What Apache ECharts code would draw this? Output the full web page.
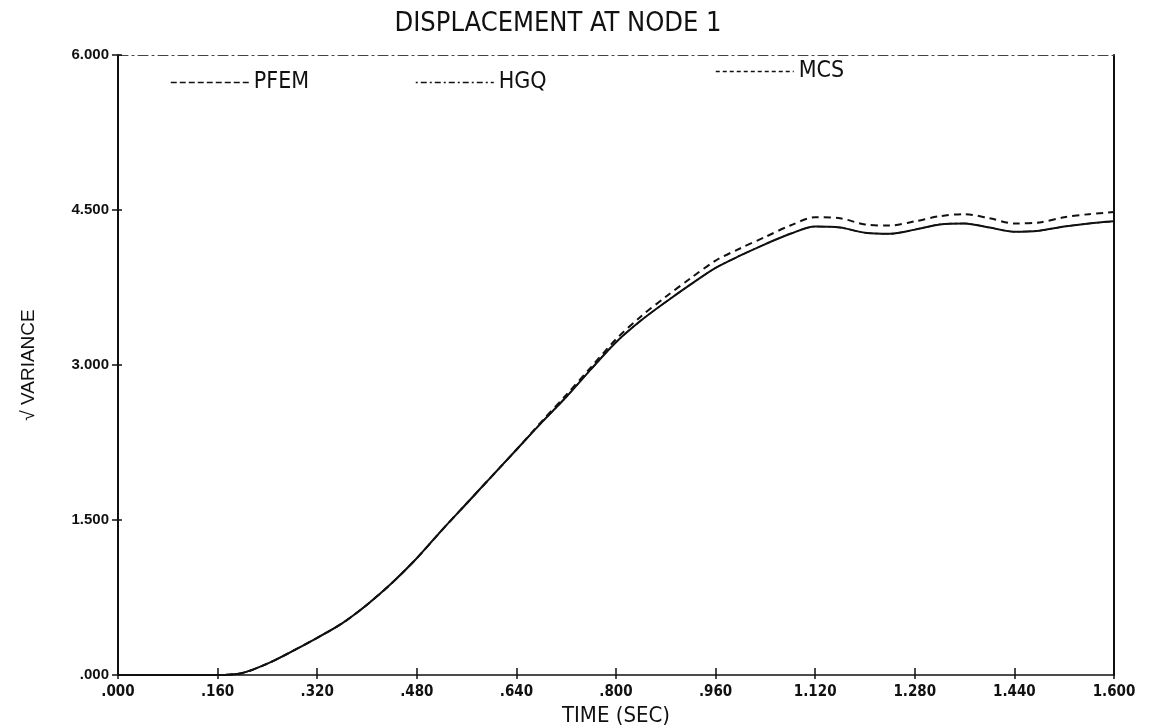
<!DOCTYPE html>
<html>
<head>
    <meta charset="utf-8">
    <title>DISPLACEMENT AT NODE 1</title>
    <script src="https://cdn.jsdelivr.net/npm/echarts@6/dist/echarts.min.js"></script>
    <style>
        html, body { margin: 0; padding: 0; background: #fff; }
        #main { width: 1158px; height: 728px; }
    </style>
</head>
<body>
<div id="main"></div>
<script type="text/javascript">
    // 数据
    var times = [0, .04, .08, .12, .16, .20, .24, .28, .32, .36, .40, .44, .48, .52, .56, .60,
        .64, .68, .72, .76, .80, .84, .88, .92, .96, 1.00, 1.04, 1.08, 1.12, 1.16, 1.20,
        1.24, 1.28, 1.32, 1.36, 1.40, 1.44, 1.48, 1.52, 1.56, 1.60];
    var pfem = [0, 0, 0, 0, 0, 0.02, 0.11, 0.23, 0.36, 0.50, 0.68, 0.89, 1.13, 1.40, 1.66, 1.92,
        2.18, 2.44, 2.69, 2.96, 3.22, 3.43, 3.61, 3.78, 3.94, 4.06, 4.17, 4.27, 4.34, 4.33, 4.28,
        4.27, 4.31, 4.36, 4.37, 4.33, 4.29, 4.30, 4.34, 4.37, 4.39];
    var hgq = [0, 0, 0, 0, 0, 0.02, 0.11, 0.23, 0.36, 0.50, 0.68, 0.89, 1.13, 1.40, 1.66, 1.92,
        2.18, 2.44, 2.69, 2.96, 3.22, 3.43, 3.61, 3.78, 3.94, 4.06, 4.17, 4.27, 4.34, 4.33, 4.28,
        4.27, 4.31, 4.36, 4.37, 4.33, 4.29, 4.30, 4.34, 4.37, 4.39];
    var mcs = [0, 0, 0, 0, 0, 0.02, 0.11, 0.23, 0.36, 0.50, 0.68, 0.89, 1.13, 1.40, 1.66, 1.92,
        2.18, 2.45, 2.71, 2.98, 3.25, 3.47, 3.66, 3.84, 4.01, 4.13, 4.24, 4.35, 4.43, 4.42, 4.36,
        4.35, 4.39, 4.44, 4.46, 4.42, 4.37, 4.38, 4.43, 4.46, 4.48];

    var narrow = '"Liberation Sans Narrow", "DejaVu Sans Condensed", "Liberation Sans", sans-serif';
    var plain = '"Liberation Sans", Arial, sans-serif';

    function pairs(ys) {
        var out = [];
        for (var i = 0; i < times.length; i++) out.push([times[i], ys[i]]);
        return out;
    }
    // .000 / .160 / 1.120 style
    function fmt(v) {
        var s = v.toFixed(3);
        return s.charAt(0) === '0' ? s.substring(1) : s;
    }

    var myChart = echarts.init(document.getElementById('main'));

    function legendAt(name, left, top, dash) {
        return {
            left: left, top: top,
            itemWidth: 78, itemHeight: 12, itemGap: 8,
            textStyle: { fontFamily: narrow, fontSize: 23, color: '#111' },
            data: [{
                name: name,
                itemStyle: { opacity: 0, borderWidth: 0 },
                lineStyle: { type: dash, width: 1.5, color: '#111' }
            }]
        };
    }

    var rect = { left: 118, right: 44, top: 55, bottom: 53, outerBoundsMode: 'none', containLabel: false };
    var hidden = { show: false };

    var option = {
        backgroundColor: '#fff',
        animation: false,
        title: {
            text: 'DISPLACEMENT AT NODE 1',
            left: 553, top: 5, textAlign: 'center',
            textStyle: { fontFamily: narrow, fontSize: 27, fontWeight: 'normal', color: '#111' }
        },
        legend: [
            legendAt('PFEM', 165, 66, [6, 3]),
            legendAt('HGQ', 410, 66, [2, 3, 6, 3]),
            legendAt('MCS', 710, 55, [4, 3])
        ],
        grid: [rect, rect],
        xAxis: [{
            gridIndex: 0, type: 'value', min: 0, max: 1.6, interval: 0.16, position: 'bottom',
            name: 'TIME (SEC)', nameLocation: 'middle', nameGap: 28,
            nameTextStyle: { fontFamily: narrow, fontSize: 22, color: '#111' },
            axisLine: { onZero: false, lineStyle: { color: '#111', width: 1.5 } },
            axisTick: { inside: false, length: 4, lineStyle: { color: '#111', width: 1.5 } },
            axisLabel: { formatter: fmt, fontFamily: narrow, fontSize: 15, fontWeight: 'bold', color: '#111', margin: 10 },
            splitLine: hidden
        }, {
            gridIndex: 0, type: 'value', min: 0, max: 1.6, position: 'top',
            axisLine: { onZero: false, lineStyle: { color: '#444', width: 1, type: [10, 4, 2, 4] } },
            axisTick: hidden, axisLabel: hidden, splitLine: hidden
        }, {
            gridIndex: 1, type: 'value', min: 0, max: 1.6, interval: 0.16, position: 'bottom',
            axisLine: { show: false, onZero: false },
            axisTick: { inside: true, length: 7, lineStyle: { color: '#111', width: 1.5 } },
            axisLabel: hidden, splitLine: hidden
        }],
        yAxis: [{
            gridIndex: 0, type: 'value', min: 0, max: 6, interval: 1.5, position: 'left',
            name: '√ VARIANCE', nameLocation: 'middle', nameGap: 80, nameRotate: 90,
            nameTextStyle: { fontFamily: plain, fontSize: 19, color: '#111' },
            axisLine: { show: true, onZero: false, lineStyle: { color: '#111', width: 2 } },
            axisTick: { show: true, inside: false, length: 6, lineStyle: { color: '#111', width: 1.5 } },
            axisLabel: { formatter: fmt, fontFamily: plain, fontSize: 15, fontWeight: 'bold', color: '#111', margin: 9 },
            splitLine: hidden
        }, {
            gridIndex: 0, type: 'value', min: 0, max: 6, position: 'right',
            axisLine: { show: true, onZero: false, lineStyle: { color: '#111', width: 2 } },
            axisTick: hidden, axisLabel: hidden, splitLine: hidden
        }, {
            gridIndex: 1, type: 'value', min: 0, max: 6, interval: 1.5, position: 'left',
            axisLine: { show: false, onZero: false },
            axisTick: { show: true, inside: true, length: 4, lineStyle: { color: '#111', width: 1.5 } },
            axisLabel: hidden, splitLine: hidden
        }],
        series: [{
            name: 'PFEM', type: 'line', smooth: 0.3, symbol: 'none',
            xAxisIndex: 0, yAxisIndex: 0,
            lineStyle: { color: '#111', width: 2, type: 'solid' },
            itemStyle: { color: '#111' },
            data: pairs(pfem)
        }, {
            name: 'HGQ', type: 'line', smooth: 0.3, symbol: 'none',
            xAxisIndex: 0, yAxisIndex: 0,
            lineStyle: { color: '#111', width: 1.5, type: [8, 3, 2, 3] },
            itemStyle: { color: '#111' },
            data: pairs(hgq)
        }, {
            name: 'MCS', type: 'line', smooth: 0.3, symbol: 'none',
            xAxisIndex: 0, yAxisIndex: 0,
            lineStyle: { color: '#111', width: 2, type: [7, 5] },
            itemStyle: { color: '#111' },
            data: pairs(mcs)
        }]
    };

    myChart.setOption(option);
</script>
</body>
</html>
